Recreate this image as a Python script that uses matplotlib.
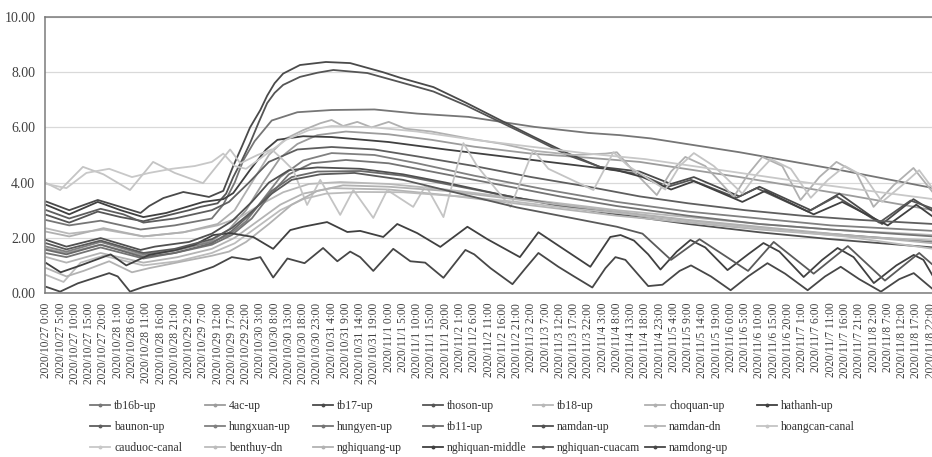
import matplotlib
matplotlib.use("Agg")
import matplotlib.pyplot as plt
from matplotlib.lines import Line2D
import pandas as pd

plt.rcParams['font.family'] = ['Liberation Serif', 'DejaVu Serif']

# ---- axis categories (hourly category axis, a label every 5 hours) ----
tick_times = pd.date_range('2020-10-27 00:00', periods=63, freq='5h')
tick_hours = [5 * i for i in range(63)]
tick_labels = [f"{t.year}/{t.month}/{t.day} {t.hour}:{t.minute:02d}" for t in tick_times]
y_ticks = [0, 2, 4, 6, 8, 10]
y_tick_labels = ['0.00', '2.00', '4.00', '6.00', '8.00', '10.00']

# ---- series: [hour, water level] read at turning points of each curve ----
tb16b_up = [[0,2.64],[8,2.45],[19,2.62],[33,2.3],[45,2.45],[58,2.7],[62,3.2],[66,4.0],[69,4.8],[73,5.5],
            [79,6.25],[88,6.55],[100,6.63],[115,6.65],[130,6.5],[148,6.38],[171,6.02],[190,5.8],[201,5.72],
            [212,5.6],[243,5.1],[278,4.46],[311,3.8]]
ac4_up = [[0,1.6],[7,1.45],[19,1.75],[34,1.35],[46,1.55],[58,1.9],[64,2.3],[70,3.0],[76,4.0],[82,4.9],
          [88,5.4],[95,5.72],[105,5.85],[120,5.75],[135,5.55],[150,5.3],[170,5.05],[190,4.9],[208,4.75],
          [243,4.2],[278,3.6],[311,3.0]]
tb17_up = [[0,3.31],[8,3.0],[18,3.37],[26,3.12],[33,2.9],[36,3.15],[41,3.44],[48,3.66],[57,3.48],[62,3.7],
           [65.5,4.6],[68.5,5.3],[71.4,6.0],[75,6.63],[77.4,7.15],[80,7.6],[83,7.95],[88.9,8.26],[98,8.37],
           [106.5,8.33],[118,8.0],[124,7.8],[135.7,7.46],[147,6.9],[159,6.27],[171,5.65],[182.6,5.07],
           [194,4.57],[200,4.5],[208,4.4],[219,3.95],[227,4.2],[243,3.5],[250,3.85],[268,3.0],[278,3.6],
           [293,2.5],[304,3.4],[311,2.95]]
thoson_up = [[0,2.83],[8,2.55],[18,2.95],[26,2.75],[34,2.6],[40,2.75],[50,3.0],[54,3.12],[60,3.25],[63,3.6],
             [65.5,4.2],[68.5,4.8],[71.4,5.43],[74.5,6.2],[77.4,6.88],[80,7.25],[83,7.54],[88.9,7.83],
             [95,7.98],[100.6,8.08],[112.5,7.97],[124,7.64],[135.7,7.3],[147,6.8],[159,6.2],[171,5.6],
             [182.6,5.0],[196,4.5],[208,4.3],[218,3.85],[226,4.1],[242,3.45],[249,3.8],[267,2.95],[277,3.5],
             [292,2.55],[303,3.35],[311,3.05]]
tb18_up = [[0,2.34],[8,2.15],[20,2.3],[34,2.05],[48,2.2],[60,2.45],[68,2.75],[75,3.2],[83,3.65],[92,3.95],
           [103,4.02],[120,3.95],[140,3.75],[160,3.5],[180,3.25],[200,3.0],[225,2.75],[250,2.5],[275,2.3],
           [311,2.1]]
choquan_up = [[0,2.22],[8,2.05],[20,2.35],[34,2.05],[48,2.2],[60,2.5],[66,3.0],[72,4.0],[78,5.0],[84,5.6],
              [90,5.9],[96,6.15],[100,6.27],[104,6.05],[109,6.2],[114,6.0],[120,6.2],[126,5.95],[135,5.85],
              [148,5.6],[160,5.4],[171,5.15],[185,5.0],[196,5.05],[200,5.1],[206,4.4],[214,3.55],[219,4.4],
              [224,4.93],[231,4.6],[241,3.48],[246,4.3],[251,4.93],[258,4.6],[264.4,3.37],[271,4.2],
              [277,4.75],[284,4.35],[290,3.12],[297,3.9],[304,4.53],[311,3.62]]
hathanh_up = [[0,3.19],[8,2.85],[18,3.3],[26,3.0],[34,2.75],[42,2.9],[55,3.3],[62,3.4],[65.5,3.62],
              [71.4,4.46],[77,5.2],[81,5.55],[90,5.68],[100,5.65],[120,5.47],[140,5.2],[160,4.95],[180,4.7],
              [200,4.45],[209,4.2],[219,3.75],[227,4.05],[244,3.3],[252,3.7],[269,2.85],[279,3.3],[295,2.45],
              [305,3.2],[311,2.75]]
baunon_up = [[0,3.0],[8,2.7],[19,3.05],[27,2.85],[34,2.55],[45,2.7],[58,3.0],[64,3.3],[71,4.0],[78,4.75],
             [88,5.2],[100,5.29],[115,5.2],[130,4.95],[150,4.6],[170,4.2],[190,3.85],[208,3.5],[225,3.25],
             [245,3.0],[265,2.8],[285,2.65],[311,2.5]]
hungxuan_up = [[0,1.68],[7,1.5],[19,1.85],[34,1.4],[45,1.55],[58,1.85],[64,2.1],[70,2.6],[76,3.4],[82,4.2],
               [90,4.8],[100,5.07],[115,5.0],[130,4.7],[150,4.25],[175,3.75],[200,3.3],[225,2.95],[250,2.7],
               [275,2.45],[311,2.25]]
hungyen_up = [[0,1.44],[7,1.3],[19,1.65],[34,1.25],[45,1.45],[58,1.75],[65,2.1],[72,2.7],[78,3.5],[85,4.3],
              [93,4.7],[105,4.82],[120,4.7],[140,4.3],[160,3.9],[180,3.5],[200,3.15],[225,2.8],[250,2.5],
              [275,2.3],[311,2.05]]
tb11_up = [[0,1.56],[7,1.4],[19,1.75],[34,1.3],[45,1.45],[58,1.8],[65,2.25],[72,2.9],[79,3.7],[86,4.2],
           [95,4.4],[110,4.42],[125,4.25],[145,3.85],[165,3.45],[185,3.1],[205,2.85],[230,2.55],[255,2.3],
           [280,2.1],[311,1.85]]
namdan_up = [[0,1.92],[7,1.68],[19,1.99],[33,1.56],[38,1.68],[50,1.85],[58,2.15],[65,2.6],[72,3.3],[78,4.0],
             [85,4.45],[95,4.55],[110,4.5],[125,4.3],[140,4.0],[160,3.55],[180,3.15],[200,2.85],[225,2.5],
             [250,2.2],[275,1.95],[311,1.65]]
namdan_dn = [[0,1.3],[7,1.1],[19,1.45],[34,1.1],[46,1.3],[58,1.6],[66,2.0],[74,2.6],[82,3.2],[90,3.6],
             [100,3.8],[120,3.75],[140,3.55],[160,3.3],[180,3.05],[200,2.8],[225,2.55],[250,2.3],[275,2.1],
             [311,1.9]]
hoangcan_canal = [[0,3.98],[4.8,3.73],[12.8,4.57],[20,4.3],[29.3,3.73],[37.4,4.75],[45,4.35],[54.9,3.98],
                  [64.4,5.2],[68,4.7],[74,5.0],[79,5.2],[83,4.82],[86.5,4.46],[91.4,3.19],[96,4.1],[103,2.83],
                  [107.6,3.73],[114.6,2.72],[119.5,3.73],[128.6,3.12],[133,3.9],[139.2,2.75],[146.2,5.43],
                  [151,4.6],[162.7,3.12],[170.7,5.18],[176,4.5],[191.8,3.73],[198.8,5.1],[204,4.6],[217,3.75],
                  [222,4.6],[227,5.07],[234,4.6],[244,3.6],[249,4.3],[254,4.85],[261,4.5],[268,3.45],[274,4.1],
                  [280,4.6],[287,4.2],[293,3.3],[300,3.9],[306,4.45],[311,3.75]]
cauduoc_canal = [[0,3.95],[7,3.8],[14,4.35],[22,4.5],[30,4.2],[36,4.35],[44,4.5],[52,4.6],[58,4.75],
                 [62,5.05],[66,4.6],[70,4.5],[76,4.95],[84,5.55],[92,5.9],[100,6.05],[115,6.0],[130,5.85],
                 [150,5.55],[170,5.3],[190,5.05],[210,4.85],[240,4.4],[270,3.95],[311,3.4]]
benthuy_dn = [[0,0.65],[6,0.4],[12,1.1],[20,1.35],[34,1.0],[46,1.15],[58,1.45],[66,1.8],[74,2.4],[82,3.0],
              [90,3.4],[98,3.6],[110,3.66],[125,3.65],[145,3.5],[165,3.3],[185,3.05],[205,2.85],[230,2.55],
              [255,2.3],[280,2.05],[311,1.6]]
nghiquang_up = [[0,0.9],[7,0.6],[13,0.8],[22,1.15],[30,0.75],[36,0.9],[48,1.15],[58,1.35],[64,1.5],[70,1.85],
                [78,2.5],[86,3.2],[95,3.7],[104,3.9],[120,3.85],[140,3.7],[160,3.45],[180,3.2],[200,2.95],
                [225,2.65],[250,2.4],[275,2.15],[311,1.8]]
nghiquan_middle = [[0,1.08],[5,0.75],[12,1.0],[22.5,1.4],[28,1.0],[36,1.38],[45,1.55],[52,1.75],[58.5,2.1],
                   [64.4,2.17],[72.5,2.03],[79.5,1.6],[85.5,2.28],[90,2.4],[98.4,2.57],[105.5,2.21],[110,2.25],
                   [118.1,2.03],[123,2.5],[130,2.17],[138.1,1.67],[147.6,2.4],[154.6,1.95],[166,1.3],
                   [172.5,2.2],[180.2,1.67],[190.7,0.95],[197.7,2.03],[201.3,2.1],[206,1.9],[211,1.4],
                   [215.3,0.85],[221,1.5],[225.8,1.92],[231,1.65],[238.8,0.83],[246,1.4],[251.4,1.81],[257,1.5],
                   [265.5,0.58],[272,1.2],[277.4,1.63],[283,1.3],[290.1,0.36],[298,1.0],[304.1,1.38],
                   [307.5,1.2],[311,0.58]]
nghiquan_cuacam = [[0,1.8],[7,1.58],[19,1.9],[34,1.45],[45,1.6],[58,1.95],[65,2.35],[72,2.95],[79,3.6],
                   [86,4.1],[96,4.3],[108,4.35],[125,4.1],[145,3.6],[165,3.1],[185,2.7],[200,2.4],[209,2.15],
                   [219,1.2],[229,1.95],[246,0.8],[255,1.85],[269,0.7],[281,1.7],[294,0.45],[306,1.45],[311,1.0]]
namdong_up = [[0,0.22],[4.8,0.05],[11,0.35],[22,0.72],[25,0.6],[29.3,0.05],[34,0.22],[48,0.58],[58.5,0.95],
              [65,1.3],[71,1.2],[75,1.3],[79.5,0.56],[84.5,1.25],[90.5,1.08],[97,1.63],[102,1.15],[106.5,1.5],
              [110,1.3],[114.6,0.8],[121.6,1.6],[127.6,1.15],[132.8,1.1],[139.2,0.55],[146.9,1.56],[150,1.4],
              [155.7,0.9],[163.4,0.32],[168,0.9],[172.5,1.45],[179.5,0.95],[185,0.6],[191.4,0.2],[196,0.9],
              [199.5,1.3],[203,1.2],[211,0.25],[216,0.3],[222,0.8],[226,1.0],[233,0.6],[239.9,0.1],[246,0.6],
              [252.8,1.08],[259,0.7],[266.9,0.1],[273,0.6],[278.5,0.95],[285,0.5],[292.6,0.05],[299,0.5],
              [304.1,0.72],[311,0.12]]

series_names = ['tb16b-up', '4ac-up', 'tb17-up', 'thoson-up', 'tb18-up', 'choquan-up', 'hathanh-up',
                'baunon-up', 'hungxuan-up', 'hungyen-up', 'tb11-up', 'namdan-up', 'namdan-dn', 'hoangcan-canal',
                'cauduoc-canal', 'benthuy-dn', 'nghiquang-up', 'nghiquan-middle', 'nghiquan-cuacam', 'namdong-up']
series_data = [tb16b_up, ac4_up, tb17_up, thoson_up, tb18_up, choquan_up, hathanh_up,
               baunon_up, hungxuan_up, hungyen_up, tb11_up, namdan_up, namdan_dn, hoangcan_canal,
               cauduoc_canal, benthuy_dn, nghiquang_up, nghiquan_middle, nghiquan_cuacam, namdong_up]
series_colors = ['#767676', '#9c9c9c', '#4a4a4a', '#555555', '#b8b8b8', '#b0b0b0', '#404040',
                 '#5e5e5e', '#808080', '#747474', '#6a6a6a', '#505050', '#b4b4b4', '#c4c4c4',
                 '#c8c8c8', '#bcbcbc', '#b2b2b2', '#404040', '#5a5a5a', '#474747']

fig = plt.figure(figsize=(9.32, 4.57), dpi=100)
ax = fig.add_axes([45 / 932, 164 / 457, 887 / 932, 276 / 457])

for name, pts, col in zip(series_names, series_data, series_colors):
    hs = [p[0] for p in pts]
    vs = [p[1] for p in pts]
    ax.plot(hs, vs, color=col, lw=1.3, solid_joinstyle='round', label=name)

ax.set_xlim(-0.5, 310.5)
ax.set_ylim(0, 10)
ax.set_yticks(y_ticks)
ax.set_yticklabels(y_tick_labels, fontsize=10, color='#404040')
ax.set_xticks(tick_hours)
ax.set_xticklabels(tick_labels, rotation=90, fontsize=8.3, color='#404040')
ax.tick_params(axis='both', length=0)
ax.tick_params(axis='x', pad=7)
ax.tick_params(axis='y', pad=7)
ax.yaxis.grid(True, color='#d9d9d9', lw=0.9)
ax.set_axisbelow(True)
for s in ['top', 'left', 'bottom']:
    ax.spines[s].set_color('#7a7a7a')
    ax.spines[s].set_linewidth(1.1)
ax.spines['right'].set_visible(False)

# legend: 7 columns laid out row by row, each column placed where the original puts it
ncol = 7
legend_col_x = [90, 205, 313, 423, 533, 645, 757]
handles = [Line2D([0], [0], color=c, lw=1.3, marker='o', markersize=1.8) for c in series_colors]
for j in range(ncol):
    idx = [r * ncol + j for r in range(3) if r * ncol + j < len(series_names)]
    leg = fig.legend([handles[i] for i in idx], [series_names[i] for i in idx], ncol=1,
                     loc='upper left', bbox_to_anchor=(legend_col_x[j] / 932, 1 - 400 / 457),
                     frameon=False, fontsize=8.5, handlelength=1.7, handletextpad=0.35,
                     labelspacing=0.75, borderpad=0, borderaxespad=0, labelcolor='#333333')

fig.savefig('out.png', dpi=100)
